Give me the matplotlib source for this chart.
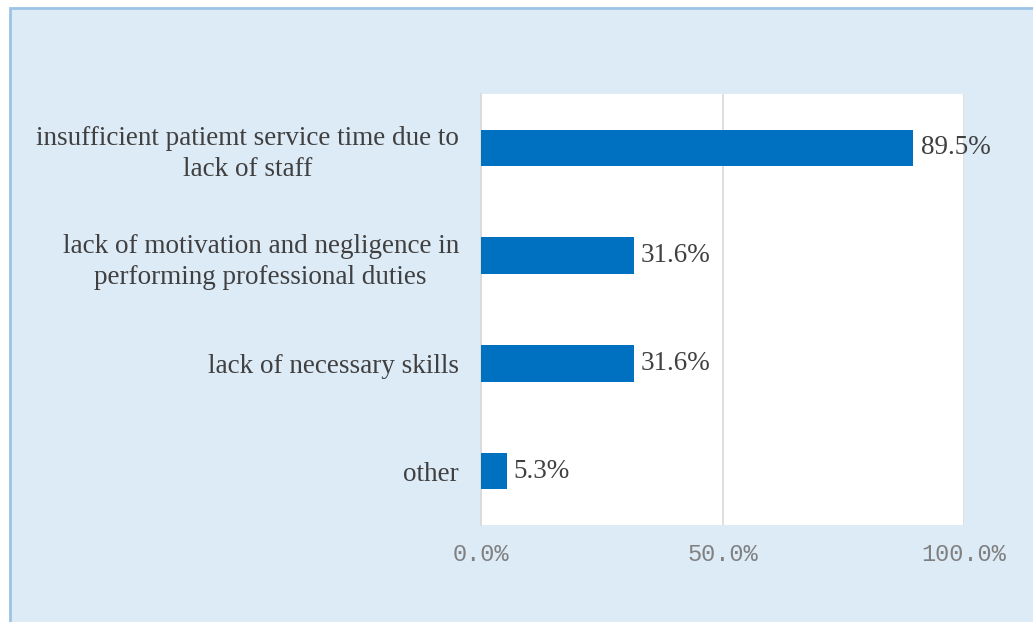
import matplotlib
matplotlib.use('Agg')
import matplotlib.pyplot as plt
from matplotlib.patches import Rectangle
from matplotlib.ticker import FuncFormatter

# Data
categories = [
    "insufficient patiemt service time due to\nlack of staff",
    "lack of motivation and negligence in\nperforming professional duties",
    "lack of necessary skills",
    "other",
]
values = [89.5, 31.6, 31.6, 5.3]
xticks = [0, 50, 100]

W, H = 1033, 622
fig = plt.figure(figsize=(W / 100, H / 100), dpi=100)
fig.patch.set_facecolor('white')

# light blue chart frame, behind everything
frame = Rectangle((10 / W, -0.01), 1.0, (622 - 8) / H + 0.01,
                  transform=fig.transFigure, facecolor='#DDEBF7',
                  edgecolor='#9DC3E6', linewidth=2, zorder=-10)
fig.patches.append(frame)

ax = fig.add_axes([481 / W, 1 - 525 / H, (964 - 481) / W, (525 - 94) / H])
ax.set_zorder(1)
ax.set_facecolor('white')

ypos = list(range(len(categories)))
bars = ax.barh(ypos, values, height=0.34, color='#0070C0', zorder=3)
ax.set_ylim(len(categories) - 0.5, -0.5)
ax.set_xlim(0, 100)

ax.set_yticks(ypos)
ax.set_yticklabels(categories, family='Liberation Serif', fontsize=19.5,
                   color='#404040', ha='right', linespacing=1.32)
for lbl in ax.get_yticklabels():
    lbl.set_multialignment('center')
ax.tick_params(axis='y', length=0, pad=16)

ax.set_xticks(xticks)
ax.xaxis.set_major_formatter(FuncFormatter(lambda v, p: f"{v:.1f}%"))
ax.tick_params(axis='x', length=0, pad=13, labelsize=17, labelcolor='#808080')
for lbl in ax.get_xticklabels():
    lbl.set_family('Liberation Mono')

ax.grid(axis='x', color='#D9D9D9', linewidth=1.2, zorder=0)
for s in ['top', 'right', 'bottom']:
    ax.spines[s].set_visible(False)
ax.spines['left'].set_color('#D9D9D9')
ax.spines['left'].set_linewidth(1.2)

for b, v in zip(bars, values):
    ax.text(v + 1.5, b.get_y() + b.get_height() / 2, f"{v:.1f}%",
            va='center', ha='left', family='Liberation Serif', fontsize=19.5,
            color='#404040', zorder=4)

fig.savefig('out.png', dpi=100)
